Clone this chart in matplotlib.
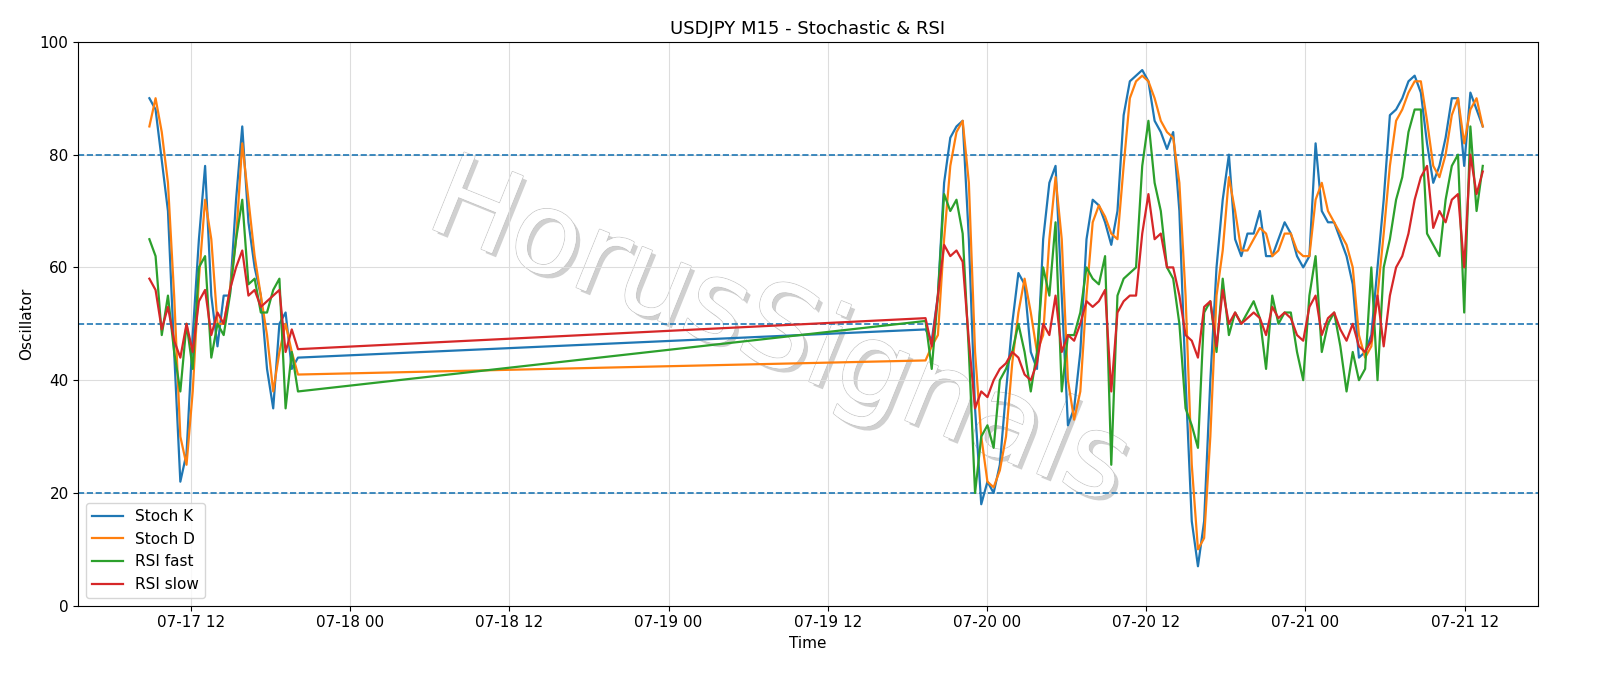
import matplotlib
matplotlib.use("Agg")
import matplotlib.pyplot as plt
import matplotlib.dates as mdates
import matplotlib.patheffects as pe
import pandas as pd
import numpy as np

seg1_start = "2025-07-17 08:52"
seg2_start = "2025-07-19 19:22"
step = "28min"

k1 = [90, 88, 79, 70, 45, 22, 27, 48, 65, 78, 55, 46, 55, 55, 72, 85, 68, 60, 55, 42, 35, 50, 52, 42, 44]
d1 = [85, 90, 84, 75, 55, 30, 25, 38, 58, 72, 65, 50, 50, 56, 65, 82, 72, 62, 55, 48, 38, 45, 50, 45, 41]
rf1 = [65, 62, 48, 55, 45, 38, 50, 42, 60, 62, 44, 50, 48, 55, 65, 72, 57, 58, 52, 52, 56, 58, 35, 45, 38]
rs1 = [58, 56, 49, 53, 47, 44, 50, 45, 54, 56, 48, 52, 50, 56, 60, 63, 55, 56, 53, 54, 55, 56, 45, 49, 45.5]

k2 = [49, 47, 55, 75, 83, 85, 86, 65, 35, 18, 22, 20, 25, 38, 50, 59, 57, 45, 42, 65, 75, 78, 55, 32, 35, 45, 65, 72,
      71, 68, 64, 70, 87, 93, 94, 95, 93, 86, 84, 81, 84, 70, 40, 15, 7, 15, 40, 60, 72, 80,
      65, 62, 66, 66, 70, 62, 62, 65, 68, 66, 62, 60,
      62, 82, 70, 68, 68, 65, 62, 57, 44, 45, 48, 60, 72, 87, 88, 90, 93, 94, 91, 82, 75, 78, 83, 90, 90, 78, 91, 88, 85]
d2 = [43.5, 46, 48, 65, 78, 84, 86, 75, 45, 30, 22, 21, 24, 30, 43, 52, 58, 52, 45, 48, 65, 76, 65, 40, 33, 38, 55, 68,
      71, 69, 66, 65, 78, 90, 93, 94, 93, 90, 86, 84, 83, 75, 55, 25, 10, 12, 30, 55, 63, 76,
      70, 63, 63, 65, 67, 66, 62, 63, 66, 66, 63, 62,
      62, 72, 75, 70, 68, 66, 64, 60, 48, 44, 46, 55, 66, 78, 86, 88, 91, 93, 93, 86, 78, 76, 80, 87, 90, 82, 88, 90, 85]
rf2 = [50.5, 42, 55, 73, 70, 72, 66, 45, 20, 30, 32, 28, 40, 42, 45, 50, 45, 38, 45, 60, 55, 68, 38, 48, 48, 52, 60, 58,
       57, 62, 25, 55, 58, 59, 60, 78, 86, 75, 70, 60, 58, 50, 35, 32, 28, 52, 54, 45, 58, 48,
       52, 50, 52, 54, 51, 42, 55, 50, 52, 52, 45, 40,
       55, 62, 45, 50, 52, 46, 38, 45, 40, 42, 60, 40, 60, 65, 72, 76, 84, 88, 88, 66, 64, 62, 72, 78, 80, 52, 85, 70, 78]
rs2 = [51, 46, 55, 64, 62, 63, 61, 47, 35, 38, 37, 40, 42, 43, 45, 44, 41, 40, 43, 50, 48, 55, 45, 48, 47, 50, 54, 53,
       54, 56, 38, 52, 54, 55, 55, 66, 73, 65, 66, 60, 60, 55, 48, 47, 44, 53, 54, 46, 56, 50,
       52, 50, 51, 52, 51, 48, 53, 51, 52, 51, 48, 47,
       53, 55, 48, 51, 52, 49, 47, 50, 46, 45, 47, 55, 46, 55, 60, 62, 66, 72, 76, 78, 67, 70, 68, 72, 73, 60, 80, 73, 77]

t = pd.date_range(seg1_start, periods=len(k1), freq=step).append(
    pd.date_range(seg2_start, periods=len(k2), freq=step))
K = k1 + k2
D = d1 + d2
RF = rf1 + rf2
RS = rs1 + rs2

fig = plt.figure(figsize=(16, 6.86), dpi=100)
ax = fig.add_axes([0.049, 0.117, 0.912, 0.822])
ax.plot(t, K, color="#1f77b4", lw=1.6, label="Stoch K", zorder=3)
ax.plot(t, D, color="#ff7f0e", lw=1.6, label="Stoch D", zorder=3)
ax.plot(t, RF, color="#2ca02c", lw=1.6, label="RSI fast", zorder=3)
ax.plot(t, RS, color="#d62728", lw=1.6, label="RSI slow", zorder=3)
for lvl in (20, 50, 80):
    ax.axhline(lvl, color="#1f77b4", ls="--", lw=1.2, zorder=2)
ax.set_ylim(0, 100)
ax.set_xlim(pd.Timestamp("2025-07-17 03:31"), pd.Timestamp("2025-07-21 17:30"))
ax.xaxis.set_major_locator(mdates.HourLocator(byhour=[0, 12]))
ax.xaxis.set_major_formatter(mdates.DateFormatter("%m-%d %H"))
ax.grid(True, color="#dddddd", lw=0.8)
ax.tick_params(labelsize=11)
ax.set_xlabel("Time", fontsize=11)
ax.set_ylabel("Oscillator", fontsize=11)
ax.set_title("USDJPY M15 - Stochastic & RSI", fontsize=13)
ax.legend(loc="lower left", fontsize=11)
ax.text(0.48, 0.48, "HorusSignals", transform=ax.transAxes, fontsize=82, rotation=-22,
        ha="center", va="center", color="white", zorder=1.5,
        path_effects=[pe.SimplePatchShadow(offset=(3, -3), shadow_rgbFace="#aaaaaa", alpha=0.55),
                      pe.withStroke(linewidth=1.2, foreground="#c8c8c8"),
                      pe.Normal()])
fig.savefig("out.png", dpi=100)
